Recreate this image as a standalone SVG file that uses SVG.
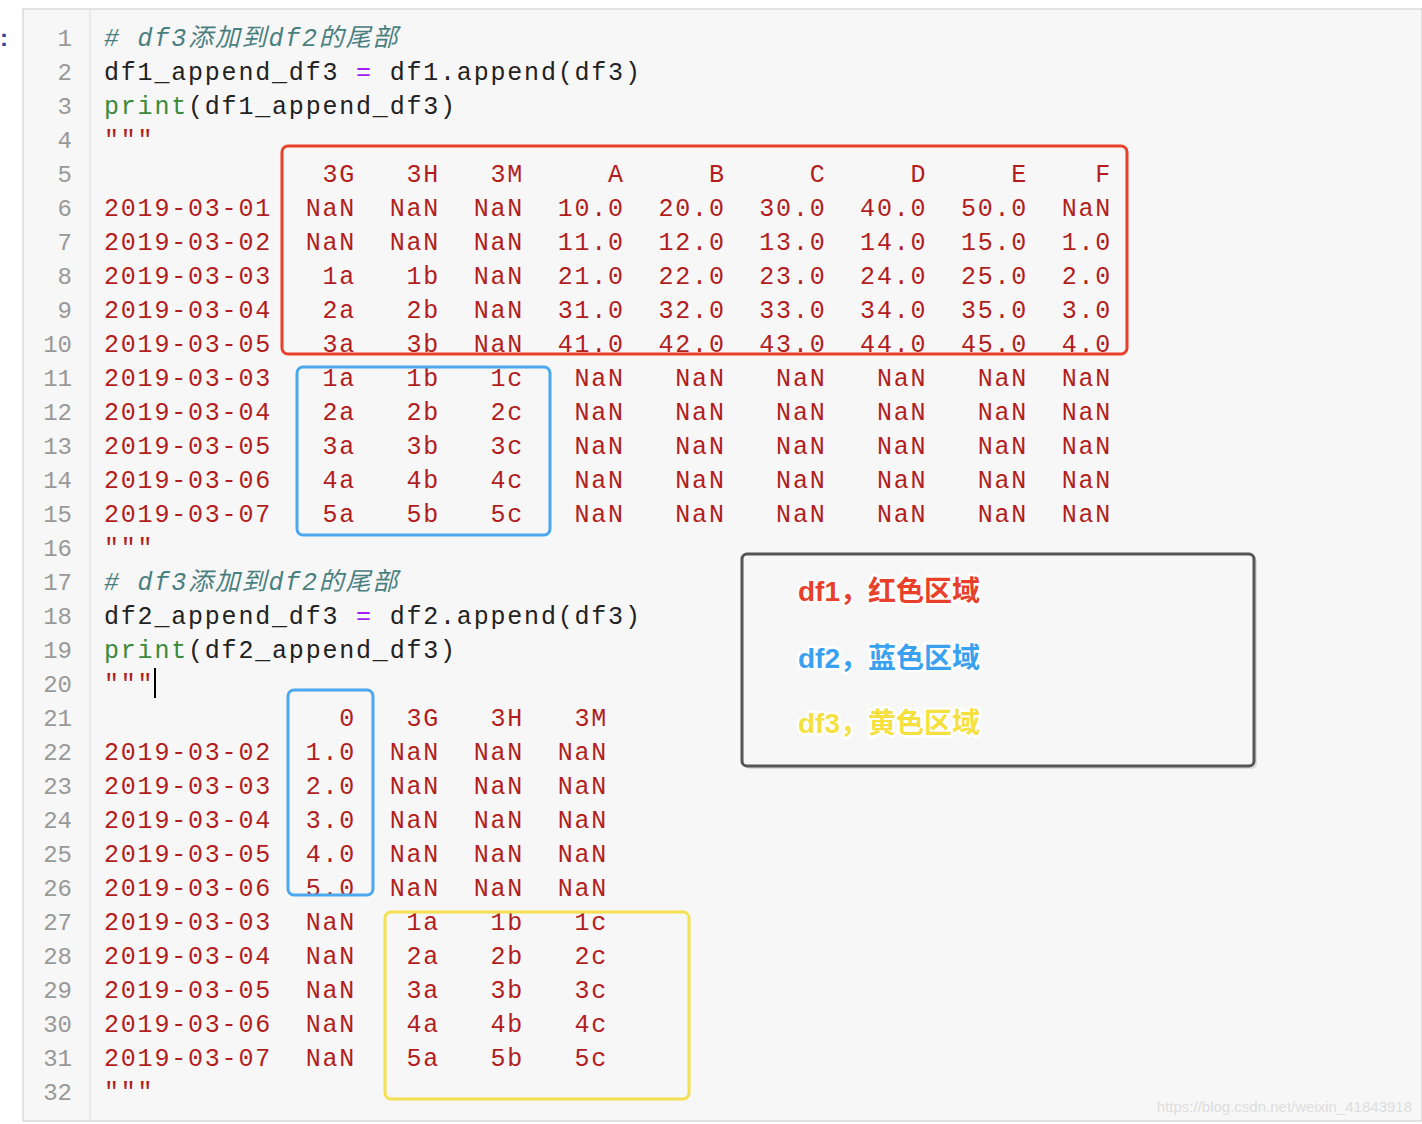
<svg xmlns="http://www.w3.org/2000/svg" width="1422" height="1124" viewBox="0 0 1422 1124">
<style>
.c{font-family:"Liberation Mono","Noto Sans CJK SC",monospace;font-size:25px;letter-spacing:1.8px;white-space:pre}
.ln{font-family:"Liberation Mono",monospace;font-size:24px;fill:#999;text-anchor:end}
.d{fill:#b21e1e}.t{fill:#222}.p{fill:#a020f0}.g{fill:#3a8a3a}.cm{fill:#4a7f80;font-style:italic}
.box{fill:none;stroke-width:3}
.lg{font-family:"Liberation Sans","Noto Sans CJK SC",sans-serif;font-size:28px;font-weight:bold;stroke:#fff;stroke-width:5;paint-order:stroke;letter-spacing:0}
</style>
<rect width="1422" height="1124" fill="#fff"/>
<rect x="23" y="9" width="1399" height="1112" fill="#f7f7f7" stroke="#ccc"/>
<line x1="90" y1="9" x2="90" y2="1121" stroke="#ddd"/>
<text x="0" y="46" font-family="Liberation Sans" font-size="24" font-weight="bold" fill="#3040a0">:</text>
<g id="linenumbers">
<text class="ln" x="72" y="46">1</text><text class="ln" x="72" y="80">2</text><text class="ln" x="72" y="114">3</text><text class="ln" x="72" y="148">4</text><text class="ln" x="72" y="182">5</text><text class="ln" x="72" y="216">6</text><text class="ln" x="72" y="250">7</text><text class="ln" x="72" y="284">8</text><text class="ln" x="72" y="318">9</text><text class="ln" x="72" y="352">10</text><text class="ln" x="72" y="386">11</text><text class="ln" x="72" y="420">12</text><text class="ln" x="72" y="454">13</text><text class="ln" x="72" y="488">14</text><text class="ln" x="72" y="522">15</text><text class="ln" x="72" y="556">16</text><text class="ln" x="72" y="590">17</text><text class="ln" x="72" y="624">18</text><text class="ln" x="72" y="658">19</text><text class="ln" x="72" y="692">20</text><text class="ln" x="72" y="726">21</text><text class="ln" x="72" y="760">22</text><text class="ln" x="72" y="794">23</text><text class="ln" x="72" y="828">24</text><text class="ln" x="72" y="862">25</text><text class="ln" x="72" y="896">26</text><text class="ln" x="72" y="930">27</text><text class="ln" x="72" y="964">28</text><text class="ln" x="72" y="998">29</text><text class="ln" x="72" y="1032">30</text><text class="ln" x="72" y="1066">31</text><text class="ln" x="72" y="1100">32</text>
</g>
<g id="code">
<text class="c cm" x="104" y="46"># df3添加到df2的尾部</text>
<text class="c t" x="104" y="80">df1_append_df3 <tspan class="p">=</tspan> df1.append(df3)</text>
<text class="c t" x="104" y="114"><tspan class="g">print</tspan>(df1_append_df3)</text>
<text class="c d" x="104" y="148">"""</text>
<text class="c d" x="104" y="182">             3G   3H   3M     A     B     C     D     E    F</text>
<text class="c d" x="104" y="216">2019-03-01  NaN  NaN  NaN  10.0  20.0  30.0  40.0  50.0  NaN</text>
<text class="c d" x="104" y="250">2019-03-02  NaN  NaN  NaN  11.0  12.0  13.0  14.0  15.0  1.0</text>
<text class="c d" x="104" y="284">2019-03-03   1a   1b  NaN  21.0  22.0  23.0  24.0  25.0  2.0</text>
<text class="c d" x="104" y="318">2019-03-04   2a   2b  NaN  31.0  32.0  33.0  34.0  35.0  3.0</text>
<text class="c d" x="104" y="352">2019-03-05   3a   3b  NaN  41.0  42.0  43.0  44.0  45.0  4.0</text>
<text class="c d" x="104" y="386">2019-03-03   1a   1b   1c   NaN   NaN   NaN   NaN   NaN  NaN</text>
<text class="c d" x="104" y="420">2019-03-04   2a   2b   2c   NaN   NaN   NaN   NaN   NaN  NaN</text>
<text class="c d" x="104" y="454">2019-03-05   3a   3b   3c   NaN   NaN   NaN   NaN   NaN  NaN</text>
<text class="c d" x="104" y="488">2019-03-06   4a   4b   4c   NaN   NaN   NaN   NaN   NaN  NaN</text>
<text class="c d" x="104" y="522">2019-03-07   5a   5b   5c   NaN   NaN   NaN   NaN   NaN  NaN</text>
<text class="c d" x="104" y="556">"""</text>
<text class="c cm" x="104" y="590"># df3添加到df2的尾部</text>
<text class="c t" x="104" y="624">df2_append_df3 <tspan class="p">=</tspan> df2.append(df3)</text>
<text class="c t" x="104" y="658"><tspan class="g">print</tspan>(df2_append_df3)</text>
<text class="c d" x="104" y="692">"""</text>
<line x1="155" y1="668" x2="155" y2="698" stroke="#000" stroke-width="2"/>
<text class="c d" x="104" y="726">              0   3G   3H   3M</text>
<text class="c d" x="104" y="760">2019-03-02  1.0  NaN  NaN  NaN</text>
<text class="c d" x="104" y="794">2019-03-03  2.0  NaN  NaN  NaN</text>
<text class="c d" x="104" y="828">2019-03-04  3.0  NaN  NaN  NaN</text>
<text class="c d" x="104" y="862">2019-03-05  4.0  NaN  NaN  NaN</text>
<text class="c d" x="104" y="896">2019-03-06  5.0  NaN  NaN  NaN</text>
<text class="c d" x="104" y="930">2019-03-03  NaN   1a   1b   1c</text>
<text class="c d" x="104" y="964">2019-03-04  NaN   2a   2b   2c</text>
<text class="c d" x="104" y="998">2019-03-05  NaN   3a   3b   3c</text>
<text class="c d" x="104" y="1032">2019-03-06  NaN   4a   4b   4c</text>
<text class="c d" x="104" y="1066">2019-03-07  NaN   5a   5b   5c</text>
<text class="c d" x="104" y="1100">"""</text>
</g>
<g id="boxes">
<rect id="red" class="box" x="282" y="146" width="845" height="208" rx="6" stroke="#e8402a"/>
<rect id="blue1" class="box" x="297" y="367" width="253" height="168" rx="6" stroke="#4aa8ee"/>
<rect id="blue2" class="box" x="288" y="690" width="85" height="205" rx="6" stroke="#4aa8ee"/>
<rect id="yellow" class="box" x="385" y="912" width="304" height="187" rx="6" stroke="#f5e050"/>
</g>
<g id="legend">
<rect x="745" y="557" width="512" height="212" rx="5" fill="#ccc" opacity="0.6"/>
<rect x="742" y="554" width="512" height="212" rx="5" fill="#f7f7f7" stroke="#555" stroke-width="3"/>
<text class="lg" x="798" y="601" fill="#e8402a">df1，红色区域</text>
<text class="lg" x="798" y="668" fill="#3aa0f0">df2，蓝色区域</text>
<text class="lg" x="798" y="733" fill="#f5e040">df3，黄色区域</text>
</g>
<text x="1412" y="1112" text-anchor="end" font-family="Liberation Sans" font-size="15" fill="#ddd">https://blog.csdn.net/weixin_41843918</text>
</svg>
